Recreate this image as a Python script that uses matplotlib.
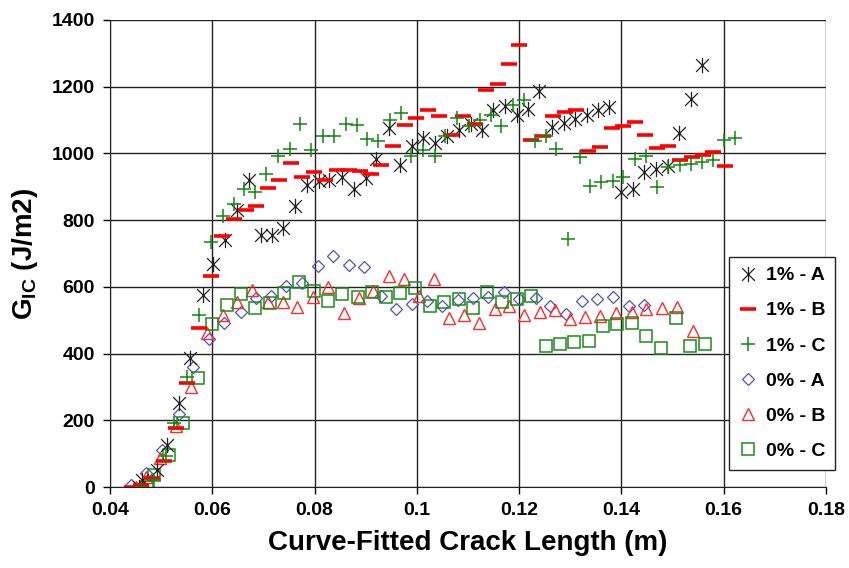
import matplotlib
matplotlib.use("Agg")
import matplotlib.pyplot as plt
from matplotlib.path import Path

# Series (crack length in m, G_IC in J/m2)
a1_x = [0.0457, 0.0463, 0.0491, 0.0512, 0.0535, 0.0556, 0.0581, 0.0602, 0.0625, 0.0649,
        0.0672, 0.0696, 0.0717, 0.0739, 0.0762, 0.0785, 0.0808, 0.0829, 0.0854, 0.0877,
        0.0901, 0.0921, 0.0945, 0.0968, 0.0990, 0.1012, 0.1035, 0.1059, 0.1082, 0.1105,
        0.1128, 0.1149, 0.1172, 0.1195, 0.1217, 0.1239, 0.1265, 0.1287, 0.1310, 0.1332,
        0.1354, 0.1376, 0.1399, 0.1422, 0.1445, 0.1468, 0.1491, 0.1513, 0.1536, 0.1558]
a1_y = [0, 21, 51, 126, 251, 386, 576, 669, 741, 831,
        921, 756, 756, 777, 841, 906, 916, 921, 929, 893,
        926, 983, 1076, 966, 1023, 1046, 1031, 1053, 1071, 1089,
        1069, 1129, 1143, 1116, 1134, 1188, 1079, 1091, 1103, 1116,
        1129, 1139, 883, 893, 943, 953, 963, 1061, 1164, 1266]

b1_x = [0.0443, 0.0460, 0.0483, 0.0506, 0.0529, 0.0551, 0.0574, 0.0597, 0.0619, 0.0643,
        0.0666, 0.0685, 0.0708, 0.0731, 0.0754, 0.0776, 0.0798, 0.0821, 0.0844, 0.0867,
        0.0889, 0.0911, 0.0930, 0.0953, 0.0976, 0.0999, 0.1021, 0.1044, 0.1067, 0.1090,
        0.1113, 0.1136, 0.1158, 0.1180, 0.1200, 0.1224, 0.1247, 0.1266, 0.1289, 0.1312,
        0.1335, 0.1358, 0.1381, 0.1404, 0.1426, 0.1446, 0.1469, 0.1492, 0.1515, 0.1538,
        0.1560, 0.1580, 0.1603]
b1_y = [0, 6, 26, 79, 176, 313, 476, 633, 753, 804,
        831, 843, 895, 921, 970, 930, 943, 920, 950, 950,
        947, 939, 964, 1023, 1084, 1107, 1129, 1113, 1056, 1113,
        1089, 1189, 1208, 1268, 1324, 1041, 1051, 1111, 1123, 1131,
        1006, 1018, 1075, 1083, 1093, 1056, 1015, 1023, 981, 990,
        995, 1003, 961]

c1_x = [0.0460, 0.0486, 0.0509, 0.0525, 0.0551, 0.0574, 0.0597, 0.0620, 0.0642, 0.0662,
        0.0684, 0.0705, 0.0728, 0.0751, 0.0772, 0.0793, 0.0816, 0.0838, 0.0861, 0.0882,
        0.0903, 0.0924, 0.0947, 0.0969, 0.0989, 0.1012, 0.1035, 0.1056, 0.1079, 0.1102,
        0.1123, 0.1144, 0.1165, 0.1188, 0.1209, 0.1231, 0.1252, 0.1273, 0.1296, 0.1319,
        0.1338, 0.1361, 0.1383, 0.1404, 0.1426, 0.1448, 0.1469, 0.1492, 0.1515, 0.1536,
        0.1557, 0.1579, 0.1600, 0.1622]
c1_y = [0, 21, 93, 191, 331, 516, 733, 813, 849, 893,
        883, 939, 993, 1013, 1088, 1011, 1051, 1053, 1089, 1086,
        1044, 1036, 1101, 1122, 993, 1011, 991, 1053, 1105, 1083,
        1101, 1116, 1083, 1146, 1161, 1036, 1051, 1014, 743, 989,
        903, 913, 918, 928, 984, 991, 898, 959, 964, 969,
        974, 979, 1041, 1046]

a0_x = [0.0441, 0.0470, 0.0501, 0.0534, 0.0563, 0.0594, 0.0623, 0.0656, 0.0685, 0.0715,
        0.0745, 0.0775, 0.0807, 0.0837, 0.0868, 0.0897, 0.0930, 0.0959, 0.0990, 0.1020,
        0.1049, 0.1080, 0.1110, 0.1140, 0.1170, 0.1199, 0.1232, 0.1261, 0.1292, 0.1322,
        0.1352, 0.1383, 0.1414, 0.1445]
a0_y = [6, 43, 111, 219, 359, 443, 493, 526, 566, 573,
        603, 611, 663, 693, 666, 661, 573, 533, 548, 559,
        543, 561, 566, 571, 584, 563, 568, 544, 519, 558,
        563, 571, 543, 546]

b0_x = [0.0451, 0.0470, 0.0498, 0.0529, 0.0558, 0.0589, 0.0620, 0.0648, 0.0677, 0.0708,
        0.0738, 0.0766, 0.0797, 0.0826, 0.0857, 0.0886, 0.0914, 0.0945, 0.0974, 0.1004,
        0.1033, 0.1063, 0.1093, 0.1122, 0.1153, 0.1181, 0.1210, 0.1241, 0.1271, 0.1300,
        0.1329, 0.1359, 0.1389, 0.1420, 0.1449, 0.1479, 0.1508, 0.1539]
b0_y = [1, 31, 86, 183, 301, 463, 515, 556, 591, 556,
        556, 541, 569, 601, 521, 568, 589, 633, 623, 573,
        623, 506, 516, 493, 534, 543, 516, 526, 531, 503,
        509, 513, 521, 526, 533, 538, 541, 469]

c0_x = [0.0473, 0.0486, 0.0515, 0.0542, 0.0572, 0.0600, 0.0628, 0.0656, 0.0684, 0.0713,
        0.0741, 0.0769, 0.0798, 0.0826, 0.0854, 0.0885, 0.0912, 0.0940, 0.0968, 0.0997,
        0.1025, 0.1053, 0.1082, 0.1109, 0.1137, 0.1167, 0.1195, 0.1224, 0.1252, 0.1279,
        0.1307, 0.1336, 0.1364, 0.1392, 0.1421, 0.1449, 0.1478, 0.1506, 0.1535, 0.1563]
c0_y = [1, 36, 96, 193, 326, 489, 546, 578, 538, 553,
        583, 616, 589, 558, 578, 569, 586, 569, 583, 598,
        544, 556, 563, 538, 584, 556, 564, 573, 423, 429,
        436, 439, 484, 489, 493, 454, 418, 506, 424, 429]

x_ticks = [0.04, 0.06, 0.08, 0.1, 0.12, 0.14, 0.16, 0.18]
x_tick_labels = ["0.04", "0.06", "0.08", "0.1", "0.12", "0.14", "0.16", "0.18"]
y_ticks = [0, 200, 400, 600, 800, 1000, 1200, 1400]

plt.rcParams["font.family"] = ["Liberation Sans", "DejaVu Sans"]
plt.rcParams["font.weight"] = "bold"
plt.rcParams["mathtext.fontset"] = "custom"
plt.rcParams["mathtext.rm"] = "Liberation Sans:bold"
plt.rcParams["mathtext.bf"] = "Liberation Sans:bold"

# Excel style asterisk: an X with a vertical bar through it
star = Path([(-1, -1), (1, 1), (-1, 1), (1, -1), (0, -1.2), (0, 1.2)],
            [Path.MOVETO, Path.LINETO, Path.MOVETO, Path.LINETO, Path.MOVETO, Path.LINETO])

fig = plt.figure(figsize=(8.49, 5.68), dpi=100)
ax = fig.add_axes([110 / 849, 81 / 568, 716 / 849, 467 / 568])

ax.plot(a0_x, a0_y, ls="none", marker="D", ms=6, mfc="none", mec="#5050c0", mew=0.9, label="0% - A")
ax.plot(b0_x, b0_y, ls="none", marker="^", ms=9, mfc="none", mec="#ff2a2a", mew=1.0, label="0% - B")
ax.plot(c0_x, c0_y, ls="none", marker="s", ms=8, mfc="none", mec="#1a8c1a", mew=1.1, label="0% - C")
ax.plot(a1_x, a1_y, ls="none", marker=star, ms=11, mfc="none", mec="#222222", mew=0.9, label="1% - A")
ax.plot(b1_x, b1_y, ls="none", marker="_", ms=11, mec="#ff0000", mew=2.6, label="1% - B")
ax.plot(c1_x, c1_y, ls="none", marker="+", ms=10, mec="#118811", mew=1.1, label="1% - C")

ax.set_xlim(0.04, 0.18)
ax.set_ylim(0, 1400)
ax.set_xticks(x_ticks)
ax.set_xticklabels(x_tick_labels)
ax.set_yticks(y_ticks)
ax.tick_params(direction="out", length=5, width=1, labelsize=14, pad=6)
ax.grid(True, color="#222222", lw=1)
ax.set_axisbelow(True)
for side in ["top", "right"]:
    ax.spines[side].set_visible(False)
for side in ["left", "bottom"]:
    ax.spines[side].set_color("#222222")

ax.set_xlabel("Curve-Fitted Crack Length (m)", fontsize=20, fontweight="bold", labelpad=8)
ax.set_ylabel(r"G$_{\mathrm{IC}}$ (J/m2)", fontsize=20, fontweight="bold", labelpad=8)

# legend in the same order as the reference
handles, labels = ax.get_legend_handles_labels()
order = [3, 4, 5, 0, 1, 2]
leg = ax.legend([handles[i] for i in order], [labels[i] for i in order],
                loc="upper left", bbox_to_anchor=(0.8645, 0.4925), borderaxespad=0,
                fancybox=False, framealpha=1, edgecolor="#222222",
                prop={"size": 14, "weight": "bold"}, handlelength=1.0,
                handletextpad=0.4, labelspacing=0.9, borderpad=0.5)
leg.get_frame().set_linewidth(1)

fig.savefig("out.png", dpi=100)
